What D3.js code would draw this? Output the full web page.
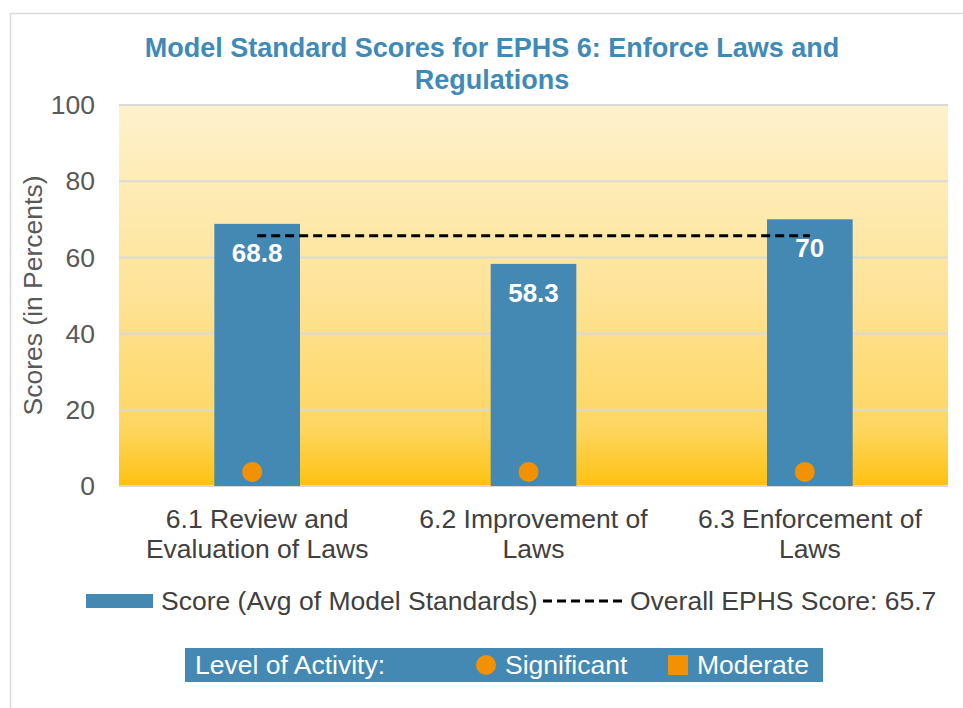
<!DOCTYPE html>
<html>
<head>
<meta charset="utf-8">
<script src="https://cdn.jsdelivr.net/npm/d3@7"></script>
<style>
  body { margin: 0; background: #fff; }
  text { font-family: "Liberation Sans", Arial, sans-serif; }
</style>
</head>
<body>
<svg id="chart" width="963" height="708"></svg>
<script>
// Data
const categories = [
    ["6.1 Review and", "Evaluation of Laws"],
    ["6.2 Improvement of", "Laws"],
    ["6.3 Enforcement of", "Laws"]
];
const scores = [68.8, 58.3, 70];
const activity = ["Significant", "Significant", "Significant"];
const overallScore = 65.7;
const yTicks = [0, 20, 40, 60, 80, 100];

const svg = d3.select("#chart");
const fs = 26.5;

// outer frame
svg.append("path")
    .attr("d", "M10.5,708 L10.5,13.5 L963,13.5")
    .attr("fill", "none").attr("stroke", "#d9d9d9").attr("stroke-width", 1.5);

// plot area
const plotLeft = 119, plotRight = 948, plotTop = 105, plotBottom = 486;

const x = d3.scaleBand()
    .domain(d3.range(categories.length))
    .range([plotLeft, plotRight])
    .paddingInner(0.69)
    .paddingOuter(0.345);
const y = d3.scaleLinear().domain([0, 100]).range([plotBottom, plotTop]);

// gradient background
const defs = svg.append("defs");
const grad = defs.append("linearGradient").attr("id", "bg")
    .attr("x1", 0).attr("y1", 0).attr("x2", 0).attr("y2", 1);
grad.append("stop").attr("offset", "0%").attr("stop-color", "#fef2cc");
grad.append("stop").attr("offset", "50%").attr("stop-color", "#fee397");
grad.append("stop").attr("offset", "85%").attr("stop-color", "#fed660");
grad.append("stop").attr("offset", "100%").attr("stop-color", "#fdc10f");

svg.append("rect")
    .attr("x", plotLeft).attr("y", plotTop)
    .attr("width", plotRight - plotLeft).attr("height", plotBottom - plotTop)
    .attr("fill", "url(#bg)");

// gridlines
svg.append("g").selectAll("line")
    .data(yTicks)
    .join("line")
    .attr("x1", plotLeft).attr("x2", plotRight)
    .attr("y1", d => y(d)).attr("y2", d => y(d))
    .attr("stroke", "#d9d9d9").attr("stroke-width", 2);

// y axis labels
svg.append("g").selectAll("text")
    .data(yTicks)
    .join("text")
    .attr("x", 95).attr("y", d => y(d))
    .attr("dy", "0.35em")
    .attr("text-anchor", "end")
    .attr("font-size", fs).attr("fill", "#595959")
    .text(d => d);

svg.append("text")
    .attr("transform", `translate(42,${(plotTop + plotBottom) / 2}) rotate(-90)`)
    .attr("text-anchor", "middle")
    .attr("font-size", fs).attr("fill", "#595959")
    .text("Scores (in Percents)");

// bars
svg.append("g").selectAll("rect")
    .data(scores)
    .join("rect")
    .attr("x", (d, i) => x(i))
    .attr("y", d => y(d))
    .attr("width", x.bandwidth())
    .attr("height", d => y(0) - y(d))
    .attr("fill", "#4389b3");

// bar value labels
svg.append("g").selectAll("text")
    .data(scores)
    .join("text")
    .attr("x", (d, i) => x(i) + x.bandwidth() / 2)
    .attr("y", d => y(d) + 38)
    .attr("text-anchor", "middle")
    .attr("font-size", 26).attr("font-weight", "bold").attr("fill", "#fff")
    .text(d => d);

// activity markers
svg.append("g").selectAll("circle")
    .data(activity)
    .join("circle")
    .attr("cx", (d, i) => x(i) + x.bandwidth() / 2 - 5)
    .attr("cy", y(3.7))
    .attr("r", 10)
    .attr("fill", "#f39200");

// overall score line
svg.append("line")
    .attr("x1", x(0) + x.bandwidth() / 2)
    .attr("x2", x(2) + x.bandwidth() / 2)
    .attr("y1", y(overallScore)).attr("y2", y(overallScore))
    .attr("stroke", "#000").attr("stroke-width", 3)
    .attr("stroke-dasharray", "9,5");

// x labels
const xl = svg.append("g").selectAll("text")
    .data(categories)
    .join("text")
    .attr("x", (d, i) => x(i) + x.bandwidth() / 2)
    .attr("y", 528)
    .attr("text-anchor", "middle")
    .attr("font-size", fs).attr("fill", "#404040");
xl.selectAll("tspan")
    .data(d => d)
    .join("tspan")
    .attr("x", function () { return this.parentNode.getAttribute("x"); })
    .attr("dy", (d, i) => i === 0 ? 0 : 30)
    .text(d => d);

// title
const title = svg.append("text")
    .attr("x", 492).attr("y", 57)
    .attr("text-anchor", "middle")
    .attr("font-size", 27).attr("font-weight", "bold").attr("fill", "#3f8ab7");
title.append("tspan").attr("x", 492).text("Model Standard Scores for EPHS 6: Enforce Laws and");
title.append("tspan").attr("x", 492).attr("dy", 32).text("Regulations");

// series legend
svg.append("rect")
    .attr("x", 86).attr("y", 594).attr("width", 67).attr("height", 14)
    .attr("fill", "#4389b3");
svg.append("text")
    .attr("x", 161).attr("y", 610)
    .attr("font-size", fs).attr("fill", "#404040")
    .text("Score (Avg of Model Standards)");
svg.append("line")
    .attr("x1", 543).attr("x2", 626).attr("y1", 601).attr("y2", 601)
    .attr("stroke", "#000").attr("stroke-width", 3)
    .attr("stroke-dasharray", "9,5");
svg.append("text")
    .attr("x", 630).attr("y", 610)
    .attr("font-size", fs).attr("fill", "#404040")
    .text("Overall EPHS Score: " + overallScore);

// level of activity legend
svg.append("rect")
    .attr("x", 185).attr("y", 648).attr("width", 638).attr("height", 34)
    .attr("fill", "#4389b3");
svg.append("text")
    .attr("x", 195).attr("y", 674)
    .attr("font-size", fs).attr("fill", "#fff")
    .text("Level of Activity:");
svg.append("circle")
    .attr("cx", 486).attr("cy", 665).attr("r", 10)
    .attr("fill", "#f39200");
svg.append("text")
    .attr("x", 505).attr("y", 674)
    .attr("font-size", fs).attr("fill", "#fff")
    .text("Significant");
svg.append("rect")
    .attr("x", 668).attr("y", 655).attr("width", 20).attr("height", 20)
    .attr("fill", "#f39200");
svg.append("text")
    .attr("x", 697).attr("y", 674)
    .attr("font-size", fs).attr("fill", "#fff")
    .text("Moderate");
</script>
</body>
</html>
